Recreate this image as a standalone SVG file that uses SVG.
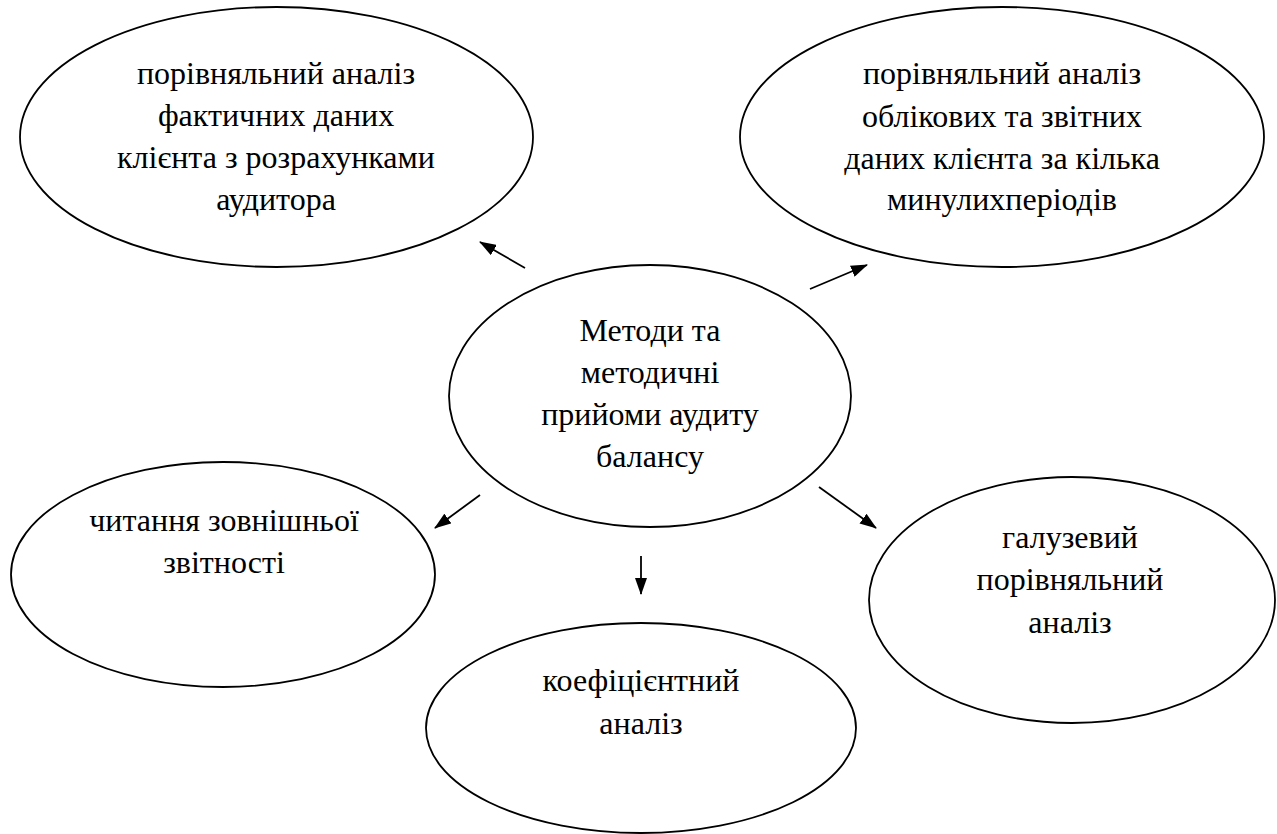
<svg xmlns="http://www.w3.org/2000/svg" width="1277" height="834" viewBox="0 0 1277 834">
<style>
.n{fill:#fff;stroke:#000;stroke-width:1.8}
.t{font-family:'Liberation Serif','Times New Roman',serif;font-size:32px;fill:#000;text-anchor:middle}
.c{stroke:#000;stroke-width:1.8;fill:none;marker-end:url(#ah)}
</style>
<defs>
<marker id="ah" markerWidth="17" markerHeight="12" refX="16" refY="6" orient="auto" markerUnits="userSpaceOnUse">
<path d="M0,0 L17,6 L0,12 Z" fill="#000"/>
</marker>
</defs>
<rect width="1277" height="834" fill="#fff"/>
<g id="n1">
<ellipse class="n" cx="276.5" cy="137" rx="256.5" ry="130"/>
<text class="t" x="276" y="84">порівняльний аналіз</text>
<text class="t" x="276" y="126">фактичних даних</text>
<text class="t" x="276" y="168">клієнта з розрахунками</text>
<text class="t" x="276" y="210">аудитора</text>
</g>
<g id="n2">
<ellipse class="n" cx="1002" cy="137" rx="262" ry="130"/>
<text class="t" x="1002" y="84">порівняльний аналіз</text>
<text class="t" x="1002" y="127">облікових та звітних</text>
<text class="t" x="1002" y="169">даних клієнта за кілька</text>
<text class="t" x="1002" y="210">минулихперіодів</text>
</g>
<g id="n3">
<ellipse class="n" cx="650" cy="396" rx="201" ry="131"/>
<text class="t" x="650" y="341">Методи та</text>
<text class="t" x="650" y="383">методичні</text>
<text class="t" x="650" y="425">прийоми аудиту</text>
<text class="t" x="650" y="467">балансу</text>
</g>
<g id="n4">
<ellipse class="n" cx="223" cy="574.5" rx="212" ry="112.5"/>
<text class="t" x="224" y="531">читання зовнішньої</text>
<text class="t" x="224" y="573">звітності</text>
</g>
<g id="n5">
<ellipse class="n" cx="641" cy="728" rx="215" ry="105"/>
<text class="t" x="641" y="691">коефіцієнтний</text>
<text class="t" x="641" y="734">аналіз</text>
</g>
<g id="n6">
<ellipse class="n" cx="1072" cy="600" rx="203" ry="123"/>
<text class="t" x="1070" y="548">галузевий</text>
<text class="t" x="1070" y="590">порівняльний</text>
<text class="t" x="1070" y="633">аналіз</text>
</g>
<g id="connectors">
<line class="c" x1="525" y1="268" x2="480" y2="242"/>
<line class="c" x1="810" y1="289" x2="867" y2="265"/>
<line class="c" x1="480" y1="495" x2="435" y2="528"/>
<line class="c" x1="641" y1="556" x2="641" y2="594"/>
<line class="c" x1="819" y1="487" x2="876" y2="528"/>
</g>
</svg>
